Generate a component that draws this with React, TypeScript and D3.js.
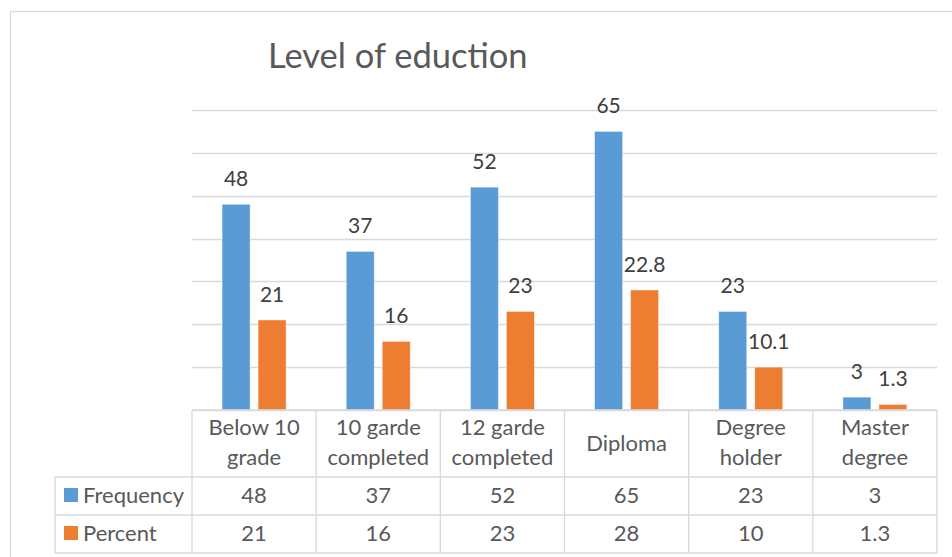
import React from "react";
import * as d3 from "d3";

const categories: string[][] = [
  ["Below 10", "grade"],
  ["10 garde", "completed"],
  ["12 garde", "completed"],
  ["Diploma"],
  ["Degree", "holder"],
  ["Master", "degree"],
];
const seriesNames = ["Frequency", "Percent"];
const frequency = [48, 37, 52, 65, 23, 3];
const percent = [21, 16, 23, 28, 10, 1.3];
const frequencyLabels = ["48", "37", "52", "65", "23", "3"];
const percentLabels = ["21", "16", "23", "22.8", "10.1", "1.3"];
const frequencyTable = ["48", "37", "52", "65", "23", "3"];
const percentTable = ["21", "16", "23", "28", "10", "1.3"];
const yTicks = [0, 10, 20, 30, 40, 50, 60, 70];
const title = "Level of eduction";

const colors = ["#5B9BD5", "#ED7D31"];
const W = 952;
const H = 557;
const FONT = "Lato, 'Open Sans', sans-serif";

export default function App() {
  const plotLeft = 192;
  const plotRight = 937;
  const plotTop = 110;
  const plotBottom = 410;
  const keys = categories.map((c) => c.join(" "));
  const x0 = d3.scaleBand<string>().domain(keys).range([plotLeft, plotRight]).padding(0);
  const bw = x0.bandwidth();
  const step = 36;
  const pInner = 8 / 36;
  const pOuter = (bw / step - (2 - pInner)) / 2;
  const x1 = d3
    .scaleBand<string>()
    .domain(seriesNames)
    .range([0, bw])
    .paddingInner(pInner)
    .paddingOuter(pOuter);
  const y = d3.scaleLinear().domain([0, 70]).range([plotBottom, plotTop]);
  const values = [frequency, percent];
  const labels = [frequencyLabels, percentLabels];
  const tableRows = [frequencyTable, percentTable];

  const rowTops = [477, 515];
  const tableBottom = 553;
  const legendLeft = 55;
  const grid = "#D9D9D9";

  return (
    <svg
      width={W}
      height={H}
      style={{ position: "absolute", left: 0, top: 0, background: "#fff" }}
      fontFamily={FONT}
    >
      <rect x={0} y={0} width={W} height={H} fill="#fff" />
      <rect x={10.5} y={11.5} width={W + 20} height={H + 20} fill="none" stroke={grid} strokeWidth={1.2} />
      <text x={268} y={68} fontSize={34.5} fill="#595959">
        {title}
      </text>
      {yTicks.map((t) => (
        <line
          key={t}
          x1={plotLeft}
          x2={plotRight}
          y1={Math.round(y(t)) + 0.5}
          y2={Math.round(y(t)) + 0.5}
          stroke={grid}
          strokeWidth={1.3}
        />
      ))}
      {keys.map((k, i) => (
        <g key={k} transform={`translate(${x0(k)},0)`}>
          {seriesNames.map((s, si) => {
            const v = values[si][i];
            const bx = x1(s)!;
            return (
              <g key={s}>
                <rect
                  x={bx}
                  y={y(v)}
                  width={x1.bandwidth()}
                  height={plotBottom - y(v)}
                  fill={colors[si]}
                  stroke="#fff"
                  strokeOpacity={0.5}
                  strokeWidth={0.8}
                />
                <text
                  x={bx + x1.bandwidth() / 2}
                  y={y(v) - 18}
                  textAnchor="middle"
                  fontSize={21}
                  fill="#404040"
                >
                  {labels[si][i]}
                </text>
              </g>
            );
          })}
        </g>
      ))}
      <g stroke={grid} strokeWidth={1.3} fill="none">
        <line x1={plotLeft} x2={plotRight} y1={plotBottom} y2={plotBottom} />
        {rowTops.map((r) => (
          <line key={r} x1={legendLeft} x2={plotRight} y1={r} y2={r} />
        ))}
        <line x1={legendLeft} x2={plotRight} y1={tableBottom} y2={tableBottom} />
        <line x1={legendLeft} x2={legendLeft} y1={rowTops[0]} y2={tableBottom} />
        {keys.map((k) => (
          <line key={k} x1={x0(k)!} x2={x0(k)!} y1={plotBottom} y2={tableBottom} />
        ))}
        <line x1={plotRight} x2={plotRight} y1={plotBottom} y2={tableBottom} />
      </g>
      {categories.map((lines, i) => {
        const cx = x0(keys[i])! + bw / 2;
        const base = lines.length === 1 ? 451 : 435;
        return (
          <text key={i} textAnchor="middle" fontSize={22} fill="#595959">
            {lines.map((l, li) => (
              <tspan key={li} x={cx} y={base + li * 30}>
                {l}
              </tspan>
            ))}
          </text>
        );
      })}
      {seriesNames.map((s, si) => (
        <g key={s}>
          <rect x={64} y={rowTops[si] + 11} width={14} height={14} fill={colors[si]} />
          <text x={83} y={rowTops[si] + 26} fontSize={22} fill="#595959">
            {s}
          </text>
          {tableRows[si].map((v, i) => (
            <text
              key={i}
              x={x0(keys[i])! + bw / 2}
              y={rowTops[si] + 26}
              textAnchor="middle"
              fontSize={22}
              fill="#595959"
            >
              {v}
            </text>
          ))}
        </g>
      ))}
    </svg>
  );
}
